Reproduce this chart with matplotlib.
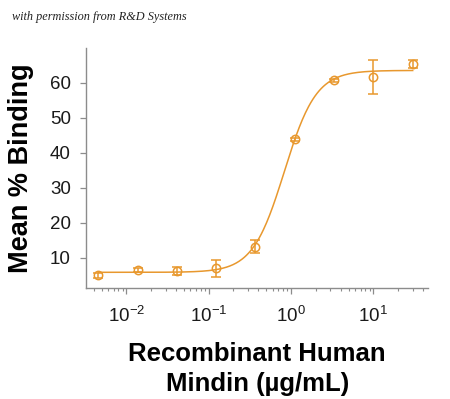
import numpy as np
import matplotlib
matplotlib.use("Agg")
import matplotlib.pyplot as plt
from matplotlib.ticker import LogLocator, NullFormatter

# Data
conc = [0.00457, 0.0137, 0.0412, 0.123, 0.370, 1.11, 3.33, 10.0, 30.0]
binding = [5.0, 6.6, 6.3, 7.1, 13.2, 43.8, 60.7, 61.7, 65.4]
errors = [0.6, 0.5, 1.2, 2.4, 1.9, 0.5, 0.4, 4.8, 1.2]
# 4-parameter logistic fit parameters
fit_bottom = 5.9
fit_top = 63.5
fit_ec50 = 0.83
fit_hill = 2.25

yticks = [10, 20, 30, 40, 50, 60]
xticks = [0.01, 0.1, 1, 10]
xticklabels = [r"$10^{-2}$", r"$10^{-1}$", r"$10^{0}$", r"$10^{1}$"]

color = "#E8982E"
spine_col = "#8c8c8c"

plt.rcParams['font.family'] = ['Liberation Sans', 'DejaVu Sans']
plt.rcParams['mathtext.fontset'] = 'custom'
plt.rcParams['mathtext.rm'] = 'Liberation Sans'
plt.rcParams['mathtext.it'] = 'Liberation Sans'

fig = plt.figure(figsize=(4.5, 3.99), dpi=100)
ax = fig.add_axes([86/450, 1-288.3/399, (428.3-86)/450, (288.3-48)/399])

xs = np.logspace(np.log10(conc[0]), np.log10(conc[-1]), 300)
ys = fit_bottom + (fit_top - fit_bottom) / (1 + (fit_ec50 / xs) ** fit_hill)
ax.plot(xs, ys, color=color, lw=1.1, zorder=2)
ax.errorbar(conc, binding, yerr=errors, fmt='o', mfc='none', mec=color,
            ecolor=color, ms=6, mew=1.1, elinewidth=1.1, capsize=3.5,
            capthick=1.1, zorder=3)

ax.set_xscale('log')
ax.set_xlim(0.00324, 46.4)
ax.set_ylim(1.34, 69.9)
ax.set_yticks(yticks)
ax.set_xticks(xticks)
ax.set_xticklabels(xticklabels)
ax.xaxis.set_minor_locator(LogLocator(base=10, subs=np.arange(2, 10), numticks=20))
ax.xaxis.set_minor_formatter(NullFormatter())

for s in ['top', 'right']:
    ax.spines[s].set_visible(False)
for s in ['left', 'bottom']:
    ax.spines[s].set_color(spine_col)
    ax.spines[s].set_linewidth(1.0)
ax.tick_params(axis='y', which='major', color=spine_col, length=4, width=0.9,
               labelsize=13.5, pad=7, labelcolor='#1a1a1a')
ax.tick_params(axis='x', which='major', color=spine_col, length=4, width=0.9,
               labelsize=13.5, pad=9, labelcolor='#1a1a1a')
ax.tick_params(axis='x', which='minor', color=spine_col, length=2.5, width=0.8)

ax.set_ylabel("Mean % Binding", fontsize=19.5, fontweight='bold', labelpad=11)
ax.set_xlabel("Recombinant Human\nMindin (\u00b5g/mL)", fontsize=18.5,
              fontweight='bold', labelpad=11, linespacing=1.32)

fig.text(12/450, 1-17/399, "with permission from R&D Systems",
         family=['Liberation Serif', 'DejaVu Serif'], style='italic',
         fontsize=8.8, va='center', ha='left', color='#222222')

fig.savefig("out.png", dpi=100)
